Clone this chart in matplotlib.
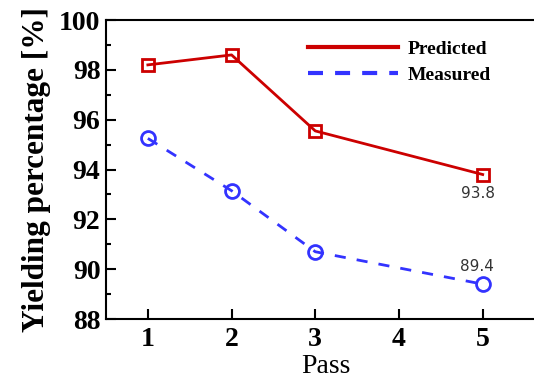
import matplotlib.pyplot as plt
from matplotlib.lines import Line2D
from matplotlib.ticker import MultipleLocator

passes = [1, 2, 3, 5]
predicted = [98.2, 98.6, 95.55, 93.8]
measured = [95.25, 93.15, 90.7, 89.4]

red = '#cc0000'
blue = '#3333ff'

fig = plt.figure(figsize=(5.34, 3.78), dpi=100)
ax = fig.add_axes([0.1985, 0.156, 0.823, 0.791])

ax.plot(passes, predicted, color=red, lw=2, marker='s', ms=8,
        mfc='none', mec=red, mew=2)
ax.plot(passes, measured, color=blue, lw=2, ls=(0, (4, 4)), marker='o', ms=10,
        mfc='none', mec=blue, mew=2)

ax.text(passes[-1] - 0.06, predicted[-1] - 0.75, '93.8', ha='center', va='center',
        fontsize=11, color='#333333', family='DejaVu Sans')
ax.text(passes[-1] - 0.07, measured[-1] + 0.7, '89.4', ha='center', va='center',
        fontsize=11, color='#333333', family='DejaVu Sans')

ax.set_xlim(0.5, 5.75)
ax.set_ylim(88, 100)
ax.set_xticks([1, 2, 3, 4, 5])
ax.yaxis.set_major_locator(MultipleLocator(2))
ax.yaxis.set_minor_locator(MultipleLocator(1))
ax.tick_params(direction='in', length=7, width=1.5, labelsize=20, pad=4)
ax.tick_params(which='minor', direction='in', length=3.6, width=1.5)
ax.tick_params(axis='x', pad=6)
for lab in ax.get_xticklabels() + ax.get_yticklabels():
    lab.set_family('Liberation Serif')
    lab.set_fontweight('bold')
for s in ax.spines.values():
    s.set_linewidth(1.5)

ax.set_xlabel('Pass', family='Liberation Serif', fontsize=20, labelpad=1)
ax.set_ylabel('Yielding percentage [%]', family='Liberation Serif',
              fontsize=22.5, fontweight='bold', labelpad=6)

handles = [Line2D([], [], color=red, lw=3),
           Line2D([], [], color=blue, lw=3, ls=(0, (3.6, 2.9)))]
ax.legend(handles, ['Predicted', 'Measured'], loc='upper left',
          bbox_to_anchor=(0.42, 0.99), frameon=False,
          handlelength=4.6, handletextpad=0.5, labelspacing=0.4,
          prop={'family': 'Liberation Serif', 'weight': 'bold', 'size': 14})

fig.savefig('out.png', dpi=100)
